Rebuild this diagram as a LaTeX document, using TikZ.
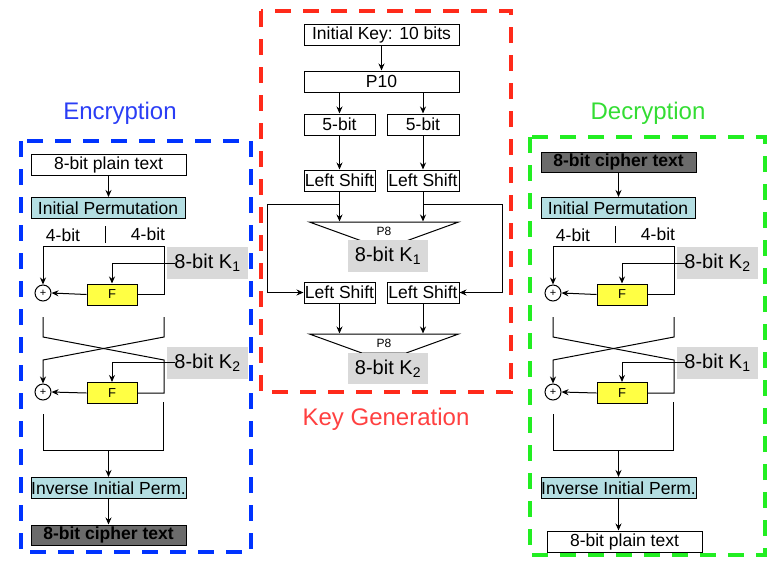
\documentclass[tikz,border=0pt]{standalone}
\usepackage{fontspec}
\setmainfont{Liberation Sans}
\usetikzlibrary{arrows.meta,shapes.geometric}

\definecolor{encblue}{HTML}{0033FF}
\definecolor{enctitle}{HTML}{2A3DF5}
\definecolor{keyred}{HTML}{FF2A1A}
\definecolor{keytitle}{HTML}{FF4040}
\definecolor{decgreen}{HTML}{22EE22}
\definecolor{dectitle}{HTML}{33DD33}
\definecolor{ipblue}{HTML}{B4DEE2}
\definecolor{fyellow}{HTML}{FFFF44}
\definecolor{keygray}{HTML}{D9D9D9}
\definecolor{cipherdark}{HTML}{6B6B6B}

\tikzset{
  plainbox/.style={draw, line width=1pt, inner sep=0pt, minimum height=21pt,
    font=\fontsize{17.5}{20}\selectfont},
  perm/.style={plainbox, fill=ipblue},
  darkbox/.style={plainbox, fill=cipherdark, font=\fontsize{17.5}{20}\selectfont\bfseries},
  fbox/.style={draw, line width=1pt, fill=fyellow, minimum width=50pt,
    minimum height=21pt, inner sep=0pt, font=\fontsize{13}{15}\selectfont},
  keylbl/.style={fill=keygray, minimum width=81pt, minimum height=32pt,
    inner sep=0pt, font=\fontsize{20}{22}\selectfont},
  xorc/.style={draw, circle, line width=1pt, minimum size=16pt, inner sep=0pt,
    font=\fontsize{11}{12}\selectfont},
  p8shape/.style={draw, line width=1pt, trapezium, shape border rotate=180,
    trapezium stretches=true, trapezium angle=26, minimum width=150pt,
    minimum height=19pt, inner sep=0pt, font=\fontsize{12}{14}\selectfont},
  bitlbl/.style={font=\fontsize{17.5}{20}\selectfont, inner sep=0pt},
  wire/.style={line width=1pt},
  arr/.style={wire, -{Stealth[length=7pt,width=6pt]}},
  dashframe/.style={line width=4pt, dash pattern=on 16pt off 12pt},
  heading/.style={font=\fontsize{24}{28}\selectfont, inner sep=0pt}
}

\begin{document}
\begin{tikzpicture}[x=1pt, y=-1pt]
  \useasboundingbox (0,0) rectangle (776,563);

  % frames and titles
  \draw[dashframe, encblue] (21,141) rectangle (251,552);
  \draw[dashframe, keyred] (261,11) rectangle (511,392);
  \draw[dashframe, decgreen] (530,137) rectangle (765,555);
  \node[heading, text=enctitle] (tenc) at (120,113) {Encryption};
  \node[heading, text=keytitle] (tkey) at (386,419) {Key Generation};
  \node[heading, text=dectitle] (tdec) at (648,113) {Decryption};

  % key generation
  \node[plainbox, minimum width=155pt] (ikey) at (381.5,34.5) {Initial Key: 10 bits};
  \node[plainbox, minimum width=155pt] (pten) at (381.5,81.5) {P10};
  \node[plainbox, minimum width=71pt] (fivel) at (339.5,124.5) {5-bit};
  \node[plainbox, minimum width=72pt] (fiver) at (423,124.5) {5-bit};
  \node[plainbox, minimum width=71pt] (shla) at (339.5,180.5) {Left Shift};
  \node[plainbox, minimum width=72pt] (shra) at (423,180.5) {Left Shift};
  \node[p8shape] (pea) at (384,231.5) {P8};
  \node[keylbl, minimum width=80pt] (kga) at (388,256) {8-bit K\textsubscript{1}};
  \node[plainbox, minimum width=71pt] (shlb) at (339.5,292.5) {Left Shift};
  \node[plainbox, minimum width=72pt] (shrb) at (423,292.5) {Left Shift};
  \node[p8shape] (peb) at (384,343.5) {P8};
  \node[keylbl, minimum width=80pt, minimum height=31pt] (kgb) at (388,368.5) {8-bit K\textsubscript{2}};
  \coordinate (bsl) at (267,204);
  \coordinate (bsr) at (502,204);

  \draw[arr] (ikey) -- (pten);
  \draw[arr] (pten.south -| fivel) -- (fivel);
  \draw[arr] (pten.south -| fiver) -- (fiver);
  \draw[arr] (fivel) -- (shla);
  \draw[arr] (fiver) -- (shra);
  \draw[arr] (shla) -- (shla |- pea.north);
  \draw[arr] (shra) -- (shra |- pea.north);
  \draw[arr] (shla |- bsl) -- (bsl) |- (shlb);
  \draw[arr] (shra |- bsr) -- (bsr) |- (shrb);
  \draw[arr] (shlb) -- (shlb |- peb.north);
  \draw[arr] (shrb) -- (shrb |- peb.north);

  % encryption / decryption rounds
  \foreach \dx/\ka/\kb/\s in {0/1/2/enc, 510/2/1/dec}{
    \node[perm, minimum width=154pt] (ip\s) at (\dx+108,208) {Initial Permutation};
    \node[perm, minimum width=155pt] (iip\s) at (\dx+108.5,488) {Inverse Initial Perm.};
    \node[bitlbl] (la\s) at (\dx+63,235) {4-bit};
    \node[bitlbl] (lb\s) at (\dx+148,234) {4-bit};
    \node[xorc] (xa\s) at (\dx+43,293) {+};
    \node[fbox] (fa\s) at (\dx+112,294.5) {F};
    \node[keylbl] (ka\s) at (\dx+207.5,263) {8-bit K\textsubscript{\ka}};
    \node[xorc] (xb\s) at (\dx+43,392) {+};
    \node[fbox] (fb\s) at (\dx+112,393) {F};
    \node[keylbl] (kb\s) at (\dx+207.5,362.5) {8-bit K\textsubscript{\kb}};
    \coordinate (ta\s) at (\dx+105,226);
    \coordinate (tb\s) at (\dx+105,243);
    \coordinate (tr\s) at (\dx+164,246);
    \coordinate (ml\s) at (\dx+43,317);
    \coordinate (mr\s) at (\dx+164,317);
    \coordinate (cl\s) at (\dx+43,337);
    \coordinate (cr\s) at (\dx+164,337);
    \coordinate (dl\s) at (\dx+43,360);
    \coordinate (dr\s) at (\dx+164,360);
    \coordinate (bl\s) at (\dx+43,414);
    \coordinate (br\s) at (\dx+163,402);
    \coordinate (el\s) at (\dx+43,450);
    \coordinate (er\s) at (\dx+163,450);

    \draw[wire] (ta\s) -- (tb\s);
    \draw[arr] (tr\s) -| (xa\s.north);
    \draw[wire] (tr\s) |- (fa\s.east);
    \draw[arr] (fa\s.west) -- (xa\s.east);
    \draw[arr] ([xshift=8]ka\s.west) -| (fa\s.north);
    \draw[wire] (ml\s) -- (cl\s) -- (dr\s) |- (fb\s.east);
    \draw[arr] (mr\s) -- (cr\s) -- (dl\s) -- (xb\s.north);
    \draw[arr] (fb\s.west) -- (xb\s.east);
    \draw[arr] ([xshift=8]kb\s.west) -| (fb\s.north);
    \draw[wire] (bl\s) -- (el\s) -- (er\s) -- (br\s);
    \draw[arr] (el\s -| iip\s.north) -- (iip\s.north);
  }

  % inputs and outputs
  \node[plainbox, minimum width=155pt] (plainenc) at (108.5,165) {8-bit plain text};
  \node[darkbox, minimum width=155pt, minimum height=20pt] (cipherenc) at (108.5,535) {8-bit cipher text};
  \node[darkbox, minimum width=155pt, minimum height=20pt] (cipherdec) at (618.5,162) {8-bit cipher text};
  \node[plainbox, minimum width=155pt] (plaindec) at (624.5,541.5) {8-bit plain text};
  \draw[arr] (plainenc) -- (plainenc |- ipenc.north);
  \draw[arr] (iipenc) -- (iipenc |- cipherenc.north);
  \draw[arr] (cipherdec) -- (cipherdec |- ipdec.north);
  \draw[arr] (iipdec) -- (iipdec |- plaindec.north);
\end{tikzpicture}
\end{document}
